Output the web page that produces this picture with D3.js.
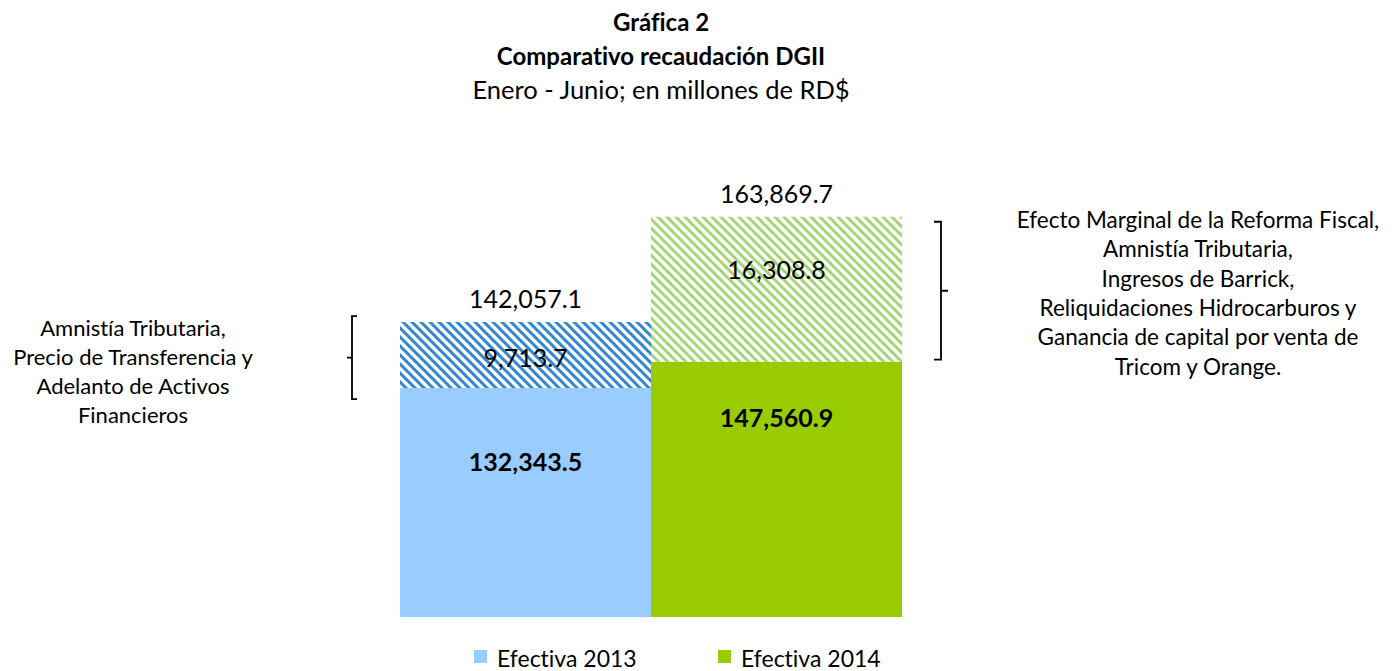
<!DOCTYPE html>
<html>
<head>
<meta charset="utf-8">
<script src="https://cdn.jsdelivr.net/npm/d3@7"></script>
<style>
  html, body { margin: 0; padding: 0; background: #fff; }
  svg { display: block; font-family: "Lato", "Open Sans", sans-serif; font-variant-ligatures: none; font-feature-settings: "liga" 0, "clig" 0; }
</style>
</head>
<body>
<svg id="chart" width="1395" height="671"></svg>
<script>
// ---- data ----
const categories = ["Efectiva 2013", "Efectiva 2014"];
const efectiva = [132343.5, 147560.9];          // solid part (labelled, bold)
const efectoExtra = [9713.7, 16308.8];          // hatched part (label values)
const totales = [142057.1, 163869.7];           // total labels
// the hatched parts are drawn taller than their values in the reference (not to scale)
const extraComoDibujado = [38150, 83800];
const titulo = "Gráfica 2";
const subtitulo = "Comparativo recaudación DGII";
const nota = "Enero - Junio; en millones de RD$";
const notaIzq = ["Amnistía Tributaria,", "Precio de Transferencia y", "Adelanto de Activos", "Financieros"];
const notaDer = ["Efecto Marginal de la Reforma Fiscal,", "Amnistía Tributaria,", "Ingresos de Barrick,",
                 "Reliquidaciones Hidrocarburos y", "Ganancia de capital por venta de", "Tricom y Orange."];

const solidColors = ["#99CCFF", "#99CC00"];
const hatchColors = ["#2F86D1", "#A3D672"];

const svg = d3.select("#chart");
const fmt = d3.format(",.1f");

// patterns
const defs = svg.append("defs");
hatchColors.forEach((c, i) => {
  const p = defs.append("pattern").attr("id", "hatch" + i)
    .attr("patternUnits", "userSpaceOnUse").attr("width", 9).attr("height", 9);
  p.append("rect").attr("width", 9).attr("height", 9).attr("fill", "#fff");
  p.append("path").attr("d", "M-1,-1 L10,10 M-2,7 L2,11 M7,-2 L11,2")
    .attr("stroke", c).attr("stroke-width", 3);
});

// scales
const x = d3.scaleBand().domain(categories).range([400, 902]).padding(0);
const y = d3.scaleLinear().domain([0, 231500]).range([617, 216.5]);

// titles
const cx = 661;
svg.append("text").attr("x", cx).attr("y", 31).attr("text-anchor", "middle")
  .attr("font-weight", "bold").attr("font-size", 24).text(titulo);
svg.append("text").attr("x", cx).attr("y", 65).attr("text-anchor", "middle")
  .attr("font-weight", "bold").attr("font-size", 24).text(subtitulo);
svg.append("text").attr("x", cx).attr("y", 99).attr("text-anchor", "middle")
  .attr("font-size", 25.5).text(nota);

// bars
const g = svg.append("g");
categories.forEach((cat, i) => {
  const x0 = x(cat), w = x.bandwidth();
  const top = efectiva[i] + extraComoDibujado[i];
  g.append("rect").attr("x", x0).attr("width", w)
    .attr("y", y(efectiva[i])).attr("height", y(0) - y(efectiva[i]))
    .attr("fill", solidColors[i]);
  g.append("rect").attr("x", x0).attr("width", w)
    .attr("y", y(top)).attr("height", y(efectiva[i]) - y(top))
    .attr("fill", "url(#hatch" + i + ")");
});

// labels
const hatchLabelFrac = [0.55, 0.37];
const solidLabelOff = [74, 57];
categories.forEach((cat, i) => {
  const mx = x(cat) + x.bandwidth() / 2;
  const top = efectiva[i] + extraComoDibujado[i];
  svg.append("text").attr("x", mx).attr("y", y(top) - 14).attr("text-anchor", "middle")
    .attr("font-size", 25).text(fmt(totales[i]));
  const hy = y(top) + (y(efectiva[i]) - y(top)) * hatchLabelFrac[i];
  svg.append("text").attr("x", mx).attr("y", hy).attr("dy", "0.35em").attr("text-anchor", "middle")
    .attr("font-size", 25).text(fmt(efectoExtra[i]));
  svg.append("text").attr("x", mx).attr("y", y(efectiva[i]) + solidLabelOff[i]).attr("dy", "0.35em")
    .attr("text-anchor", "middle").attr("font-weight", "bold").attr("font-size", 25)
    .text(fmt(efectiva[i]));
});

// brackets
const lb = { x: 352, y0: y(efectiva[0] + extraComoDibujado[0]) - 6, y1: y(efectiva[0]) + 11 };
svg.append("path")
  .attr("d", `M${lb.x + 5},${lb.y0} H${lb.x} V${lb.y1} H${lb.x + 5} M${lb.x},${(lb.y0 + lb.y1) / 2} H${lb.x - 5}`)
  .attr("fill", "none").attr("stroke", "#000").attr("stroke-width", 1.8);
const rb = { x: 941, y0: y(efectiva[1] + extraComoDibujado[1]) + 5, y1: y(efectiva[1]) - 2 };
svg.append("path")
  .attr("d", `M${rb.x - 7},${rb.y0} H${rb.x} V${rb.y1} H${rb.x - 7} M${rb.x},${(rb.y0 + rb.y1) / 2} H${rb.x + 7}`)
  .attr("fill", "none").attr("stroke", "#000").attr("stroke-width", 1.8);

// side notes
notaIzq.forEach((t, i) => {
  svg.append("text").attr("x", 133).attr("y", 328 + i * 29).attr("dy", "0.35em")
    .attr("text-anchor", "middle").attr("font-size", 22).text(t);
});
notaDer.forEach((t, i) => {
  svg.append("text").attr("x", 1198).attr("y", 220 + i * 29.4).attr("dy", "0.35em")
    .attr("text-anchor", "middle").attr("font-size", 22.5).text(t);
});

// legend
const legX = [474, 718];
categories.forEach((cat, i) => {
  svg.append("rect").attr("x", legX[i]).attr("y", 650).attr("width", 13).attr("height", 13)
    .attr("fill", solidColors[i]);
  svg.append("text").attr("x", legX[i] + 23).attr("y", 667).attr("font-size", 23).text(cat);
});
</script>
</body>
</html>
